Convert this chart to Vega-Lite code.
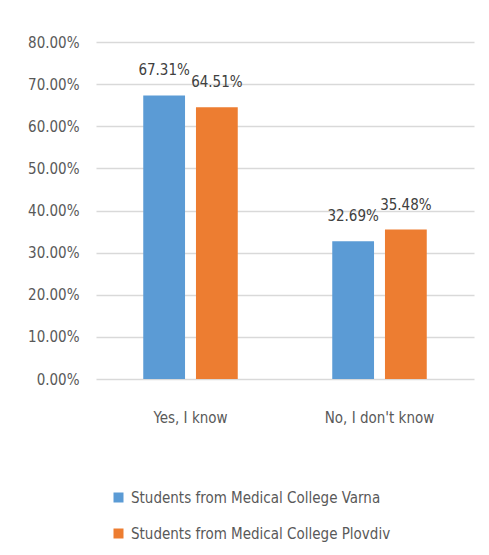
{
  "$schema": "https://vega.github.io/schema/vega-lite/v6.json",
  "width": 378,
  "height": 337,
  "autosize": "none",
  "padding": {"left": 96, "top": 42, "right": 15, "bottom": 176},
  "background": "white",
  "config": {
    "view": {"stroke": null},
    "font": "'DejaVu Sans Condensed', sans-serif"
  },
  "data": {
    "values": [
      {"answer": "Yes, I  know", "group": "Students from Medical College Varna", "value": 0.6731},
      {"answer": "Yes, I  know", "group": "Students from Medical College Plovdiv", "value": 0.6451},
      {"answer": "No, I don't know", "group": "Students from Medical College Varna", "value": 0.3269},
      {"answer": "No, I don't know", "group": "Students from Medical College Plovdiv", "value": 0.3548}
    ]
  },
  "encoding": {
    "x": {
      "field": "answer", "type": "nominal", "sort": ["Yes, I  know", "No, I don't know"],
      "scale": {"paddingInner": 0.5, "paddingOuter": 0.25},
      "axis": {"title": null, "labelAngle": 0, "domain": false, "ticks": false, "labelPadding": 31,
               "labelFont": "'DejaVu Sans Condensed', sans-serif", "labelFontSize": 15, "labelColor": "#595959"}
    },
    "xOffset": {
      "field": "group", "type": "nominal",
      "sort": ["Students from Medical College Varna", "Students from Medical College Plovdiv"],
      "scale": {"paddingInner": 0.2075, "paddingOuter": 0}
    },
    "y": {
      "field": "value", "type": "quantitative",
      "scale": {"domain": [0, 0.8], "nice": false},
      "axis": {"title": null, "format": ".2%", "values": [0, 0.1, 0.2, 0.3, 0.4, 0.5, 0.6, 0.7, 0.8],
               "domain": false, "ticks": false, "labelPadding": 17, "gridColor": "#d9d9d9", "gridWidth": 1.3,
               "labelFont": "'DejaVu Sans Condensed', sans-serif", "labelFontSize": 15, "labelColor": "#595959"}
    }
  },
  "layer": [
    {
      "mark": {"type": "bar"},
      "encoding": {
        "color": {
          "field": "group", "type": "nominal",
          "sort": ["Students from Medical College Varna", "Students from Medical College Plovdiv"],
          "scale": {"range": ["#5b9bd5", "#ed7d31"]},
          "legend": {
            "title": null, "orient": "none", "direction": "vertical",
            "legendX": 15, "legendY": 448, "padding": 0,
            "symbolType": "square", "symbolSize": 100, "symbolStrokeWidth": 0,
            "labelFont": "'DejaVu Sans Condensed', sans-serif", "labelFontSize": 15, "labelColor": "#595959",
            "labelOffset": 5, "rowPadding": 20, "labelLimit": 400
          }
        }
      }
    },
    {
      "mark": {"type": "text", "baseline": "alphabetic", "dy": -20, "font": "'DejaVu Sans Condensed', sans-serif", "fontSize": 15, "color": "#404040"},
      "encoding": {
        "text": {"field": "value", "type": "quantitative", "format": ".2%"}
      }
    }
  ]
}
